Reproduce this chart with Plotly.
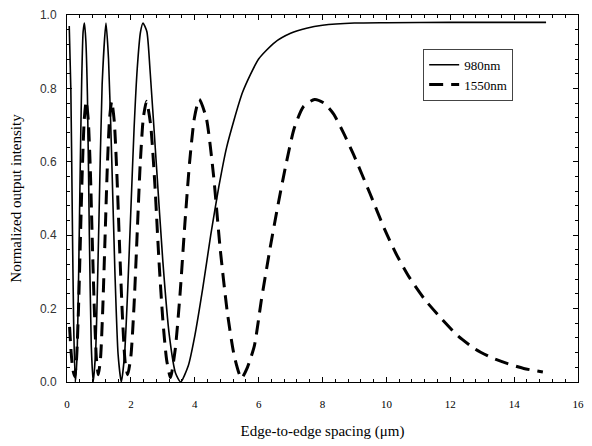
import plotly.graph_objects as go

# 980 nm (solid)
x980 = [0.07, 0.12, 0.165, 0.21, 0.26, 0.31, 0.36, 0.41, 0.46, 0.505, 0.545, 0.59, 0.64, 0.70, 0.76, 0.82,
        0.90, 1.00, 1.10, 1.22, 1.30, 1.40, 1.50, 1.60, 1.70, 1.80, 1.90, 2.00, 2.10, 2.20, 2.30, 2.38,
        2.50, 2.60, 2.80, 3.00, 3.20, 3.40, 3.56, 3.80, 4.00, 4.25, 4.50, 4.75, 5.00, 5.50, 6.00, 6.50,
        7.00, 7.50, 8.00, 9.00, 10.00, 12.00, 15.00]
y980 = [0.97, 0.80, 0.46, 0.15, 0.0, 0.06, 0.27, 0.56, 0.82, 0.955, 0.978, 0.93, 0.78, 0.40, 0.10, 0.0,
        0.09, 0.44, 0.81, 0.978, 0.88, 0.61, 0.30, 0.075, 0.0, 0.072, 0.25, 0.47, 0.69, 0.855, 0.953, 0.978,
        0.955, 0.85, 0.59, 0.33, 0.13, 0.024, 0.0, 0.045, 0.125, 0.255, 0.40, 0.53, 0.64, 0.79, 0.88, 0.925,
        0.95, 0.964, 0.972, 0.978, 0.979, 0.980, 0.980]

# 1550 nm (dashed)
x1550 = [0.08, 0.13, 0.18, 0.24, 0.30, 0.36, 0.42, 0.48, 0.54, 0.60, 0.665, 0.73, 0.79, 0.855, 0.92, 0.98,
         1.05, 1.12, 1.19, 1.26, 1.33, 1.40, 1.48, 1.565, 1.65, 1.735, 1.82, 1.90, 2.00, 2.10, 2.20, 2.29,
         2.39, 2.49, 2.62, 2.75, 2.88, 3.00, 3.12, 3.24, 3.39, 3.54, 3.69, 3.84, 3.99, 4.14, 4.36, 4.58,
         4.80, 5.02, 5.24, 5.46, 5.65, 5.87, 6.08, 6.35, 6.59, 6.85, 7.11, 7.40, 7.75, 8.05, 8.35, 8.65,
         8.97, 9.48, 9.95, 10.3, 10.72, 11.2, 11.75, 12.25, 12.78, 13.3, 13.8, 14.3, 14.9]
y1550 = [0.15, 0.08, 0.035, 0.015, 0.065, 0.20, 0.39, 0.58, 0.715, 0.765, 0.715, 0.58, 0.39, 0.20, 0.065, 0.02,
         0.065, 0.20, 0.39, 0.58, 0.715, 0.765, 0.71, 0.56, 0.36, 0.18, 0.055, 0.02, 0.07, 0.21, 0.41, 0.59,
         0.72, 0.765, 0.70, 0.54, 0.33, 0.17, 0.06, 0.012, 0.09, 0.24, 0.43, 0.60, 0.72, 0.77, 0.72, 0.57,
         0.36, 0.19, 0.07, 0.01, 0.04, 0.10, 0.22, 0.36, 0.475, 0.59, 0.69, 0.75, 0.77, 0.76, 0.73, 0.68,
         0.62, 0.515, 0.415, 0.35, 0.285, 0.225, 0.17, 0.125, 0.09, 0.066, 0.05, 0.037, 0.027]

x_ticks = [0, 2, 4, 6, 8, 10, 12, 14, 16]
y_ticks = [0.0, 0.2, 0.4, 0.6, 0.8, 1.0]

serif = "Liberation Serif"
sans = "Liberation Sans"

fig = go.Figure()
fig.add_trace(go.Scatter(x=x980, y=y980, mode="lines", name="980nm",
                         line=dict(color="black", width=1.6, shape="spline", smoothing=0.6)))
fig.add_trace(go.Scatter(x=x1550, y=y1550, mode="lines", name="1550nm",
                         line=dict(color="black", width=3, dash="14px,8px", shape="spline", smoothing=0.6)))

axis_common = dict(showline=True, linecolor="black", linewidth=1, mirror="ticks",
                   ticks="inside", ticklen=5, tickcolor="black", showgrid=False, zeroline=False)

fig.update_layout(
    width=592, height=446,
    margin=dict(l=67, r=8, t=14, b=64),
    paper_bgcolor="white", plot_bgcolor="white",
    showlegend=True,
    legend=dict(x=0.697, y=0.908, xanchor="left", yanchor="top",
                bgcolor="white", bordercolor="#444", borderwidth=1,
                font=dict(family=serif, size=13, color="black"),
                entrywidth=78, tracegroupgap=0),
    xaxis=dict(range=[0, 16], tickvals=x_ticks, ticktext=[str(v) for v in x_ticks],
               minor=dict(dtick=0.4, ticks="inside", ticklen=3, tickcolor="black"),
               tickfont=dict(family=serif, size=11, color="black"),
               ticklabelstandoff=12,
               title=dict(text="Edge-to-edge spacing (μm)", standoff=16,
                          font=dict(family=serif, size=15, color="black")),
               **axis_common),
    yaxis=dict(range=[0, 1], tickvals=y_ticks, ticktext=[f"{v:.1f}" for v in y_ticks],
               minor=dict(dtick=0.04, ticks="inside", ticklen=3, tickcolor="black"),
               tickfont=dict(family=sans, size=12, color="#333"),
               ticklabelstandoff=7,
               title=dict(text="Normalized output intensity", standoff=14,
                          font=dict(family=serif, size=15, color="black")),
               **axis_common),
)

fig.write_html("out.html", post_script="document.body.style.margin='0';",
               config={"displayModeBar": False})
